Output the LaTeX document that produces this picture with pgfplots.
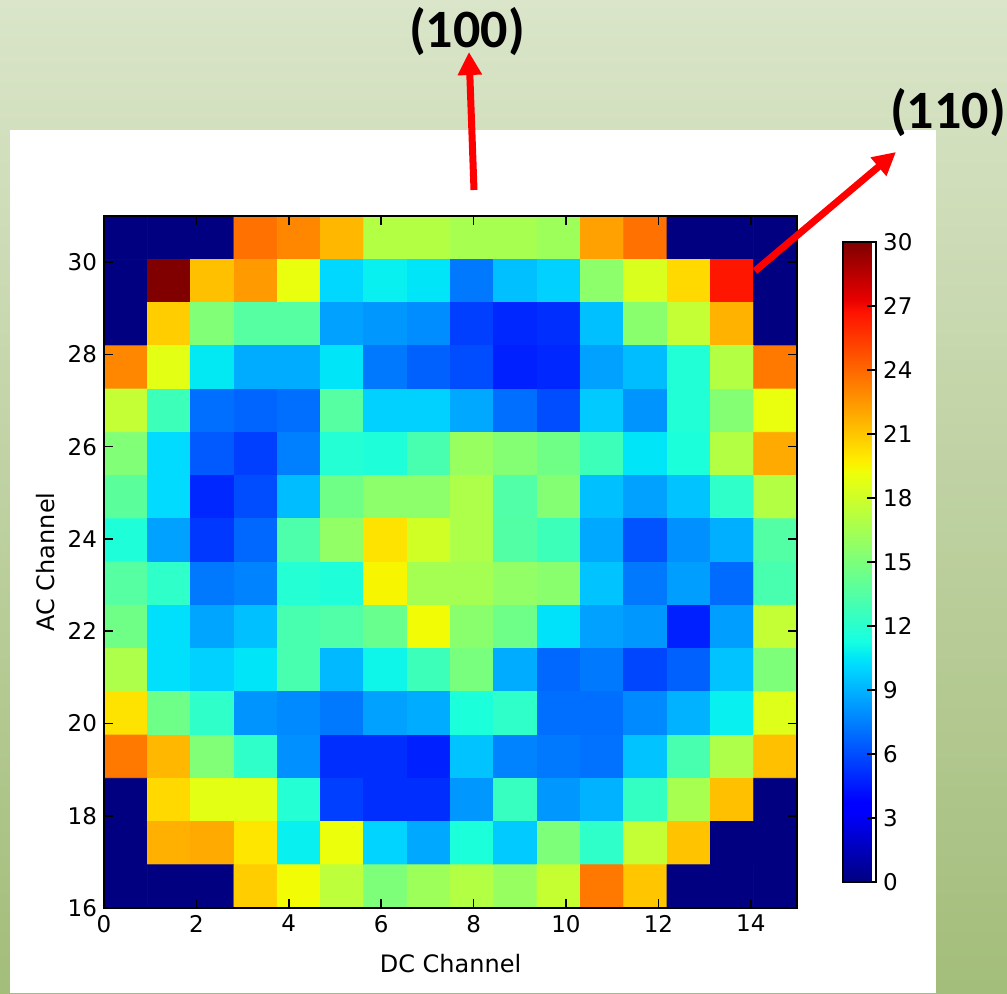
\documentclass[border=0pt]{standalone}
\usepackage{fontspec}
\setmainfont{DejaVu Sans}
\newfontfamily\calibri{Carlito}
\usepackage{pgfplots}
\pgfplotsset{compat=1.18}
\usetikzlibrary{arrows.meta}

\definecolor{bgtop}{RGB}{218,229,201}
\definecolor{bgbot}{RGB}{163,189,122}

% matplotlib-style jet colour map (positions in half-percent steps)
\pgfplotsset{
  colormap={mpljet}{
    rgb(0pt)=(0,0,0.5); rgb(22pt)=(0,0,1); rgb(25pt)=(0,0,1);
    rgb(68pt)=(0,0.86,1); rgb(70pt)=(0,0.9,0.968); rgb(75pt)=(0.081,1,0.887);
    rgb(128pt)=(0.935,1,0.032); rgb(130pt)=(0.968,0.963,0); rgb(132pt)=(1,0.926,0);
    rgb(178pt)=(1,0.074,0); rgb(182pt)=(0.909,0,0); rgb(200pt)=(0.5,0,0)}
}

\begin{document}
\begin{tikzpicture}
\begin{scope}[x=0.5pt,y=0.5pt]
  \useasboundingbox (0,0) rectangle (1007,993);
  \shade[top color=bgtop, bottom color=bgbot] (0,0) rectangle (1007,993);
  \fill[white] (10,0) rectangle (936,863);
\end{scope}

\begin{axis}[
  at={(52pt,42.5pt)}, anchor=south west,
  scale only axis, width=346.5pt, height=346pt,
  xmin=0, xmax=15, ymin=16, ymax=31,
  enlargelimits=false, axis on top,
  xtick={0,2,...,14}, ytick={16,18,...,30},
  tick align=inside, major tick length=4.5pt,
  every tick/.style={black, line width=0.8pt},
  axis line style={black, line width=0.9pt},
  tick label style={font=\fontsize{11.5}{13}\selectfont},
  /pgf/number format/assume math mode=true,
  xlabel={DC Channel}, ylabel={AC Channel},
  xlabel style={at={(axis description cs:0.5,-0.0925)}, anchor=base,
                font=\fontsize{12}{14}\selectfont},
  ylabel style={at={(axis description cs:-0.085,0.5)}, anchor=center,
                font=\fontsize{12}{14}\selectfont},
  colormap name=mpljet,
  point meta min=0, point meta max=30,
  colorbar,
  colorbar style={
    scale only axis, width=16.5pt, height=320pt,
    at={(parent axis.east)}, anchor=west, xshift=14.5pt,
    ytick={0,3,...,30}, ytick pos=right, yticklabel pos=right,
    tick align=inside, major tick length=4.5pt,
    every tick/.style={black, line width=0.8pt},
    axis line style={black, line width=0.9pt},
    yticklabel style={font=\fontsize{11.5}{13}\selectfont},
    /pgf/number format/assume math mode=true,
  },
]
% 16 x 16 channel grid, listed row by row from the top (AC high) down
\addplot[matrix plot*, mesh/cols=16, mesh/rows=16, point meta=explicit]
  table[header=false, row sep=\\, meta index=0,
        x expr={0.46875+0.9375*mod(\coordindex,16)},
        y expr={30.53125-0.9375*floor((\coordindex+0.5)/16)}] {
0\\ 0\\ 0\\ 23.7\\ 23.0\\ 21.5\\ 17.0\\ 17.0\\ 16.6\\ 16.6\\ 16.2\\ 22.2\\ 23.7\\ 0\\ 0\\ 0\\
0\\ 30\\ 21.2\\ 22.4\\ 19.0\\ 10.1\\ 10.8\\ 10.5\\ 7.3\\ 9.4\\ 9.9\\ 15.6\\ 18.4\\ 20.4\\ 26.6\\ 0\\
0\\ 20.8\\ 15.2\\ 13.6\\ 13.6\\ 8.5\\ 8.2\\ 7.9\\ 5.6\\ 4.9\\ 5.1\\ 9.4\\ 15.5\\ 17.6\\ 21.6\\ 0\\
23.0\\ 18.8\\ 10.6\\ 8.8\\ 8.8\\ 10.5\\ 7.3\\ 6.6\\ 6.0\\ 4.7\\ 4.9\\ 8.5\\ 9.3\\ 11.7\\ 17.0\\ 23.5\\
17.6\\ 12.7\\ 7.0\\ 6.7\\ 7.0\\ 13.6\\ 9.9\\ 9.9\\ 8.7\\ 7.0\\ 6.0\\ 9.7\\ 8.1\\ 11.7\\ 15.3\\ 19.0\\
15.2\\ 10.2\\ 6.4\\ 5.6\\ 7.5\\ 11.8\\ 11.6\\ 13.1\\ 16.0\\ 15.3\\ 14.6\\ 12.7\\ 10.5\\ 11.5\\ 17.0\\ 21.9\\
13.8\\ 10.2\\ 4.9\\ 6.0\\ 9.3\\ 14.6\\ 15.6\\ 15.6\\ 16.8\\ 13.4\\ 15.3\\ 9.4\\ 8.5\\ 9.5\\ 12.2\\ 17.0\\
11.6\\ 8.5\\ 5.4\\ 6.8\\ 13.3\\ 15.8\\ 20.1\\ 18.1\\ 16.8\\ 13.5\\ 12.7\\ 8.7\\ 6.2\\ 8.0\\ 8.9\\ 13.5\\
13.6\\ 12.2\\ 7.3\\ 7.6\\ 11.8\\ 11.6\\ 19.5\\ 16.5\\ 16.5\\ 15.8\\ 15.5\\ 9.5\\ 7.3\\ 8.4\\ 6.9\\ 13.1\\
14.6\\ 10.3\\ 8.6\\ 9.4\\ 13.1\\ 13.4\\ 14.3\\ 19.3\\ 15.5\\ 14.5\\ 10.4\\ 8.5\\ 8.2\\ 4.7\\ 8.4\\ 17.6\\
16.8\\ 10.3\\ 9.9\\ 10.5\\ 13.1\\ 9.2\\ 11.0\\ 12.7\\ 14.9\\ 8.8\\ 6.8\\ 7.3\\ 5.8\\ 6.6\\ 9.5\\ 15.1\\
20.1\\ 14.5\\ 12.2\\ 8.1\\ 7.8\\ 7.3\\ 8.5\\ 8.8\\ 11.5\\ 12.2\\ 7.0\\ 7.0\\ 7.8\\ 9.0\\ 10.8\\ 18.6\\
23.5\\ 21.5\\ 15.2\\ 12.2\\ 8.0\\ 5.1\\ 5.1\\ 4.7\\ 9.5\\ 7.6\\ 7.3\\ 7.1\\ 9.5\\ 13.1\\ 16.8\\ 21.2\\
0\\ 20.4\\ 18.8\\ 18.8\\ 11.8\\ 5.6\\ 5.1\\ 5.1\\ 8.2\\ 12.5\\ 8.2\\ 9.0\\ 12.4\\ 16.6\\ 21.2\\ 0\\
0\\ 21.7\\ 21.9\\ 20.0\\ 10.8\\ 19.1\\ 10.0\\ 8.7\\ 11.5\\ 9.7\\ 15.1\\ 12.2\\ 17.6\\ 21.1\\ 0\\ 0\\
0\\ 0\\ 0\\ 20.8\\ 19.3\\ 17.4\\ 15.1\\ 16.2\\ 17.0\\ 16.0\\ 17.7\\ 23.5\\ 21.0\\ 0\\ 0\\ 0\\
};
\end{axis}

\begin{scope}[x=0.5pt,y=0.5pt]
  \draw[red, line width=3.5pt, -{Triangle[length=11.5pt,width=11.5pt]}] (474,803) -- (469,941);
  \draw[red, line width=3.5pt, -{Triangle[length=11.5pt,width=11.5pt]}] (755,722) -- (896,841);
  \node[inner sep=0pt, font=\calibri\bfseries\fontsize{27}{32}\selectfont] at (467,961) {(100)};
  \node[inner sep=0pt, font=\calibri\bfseries\fontsize{27}{32}\selectfont] at (948,880) {(110)};
\end{scope}
\end{tikzpicture}
\end{document}
